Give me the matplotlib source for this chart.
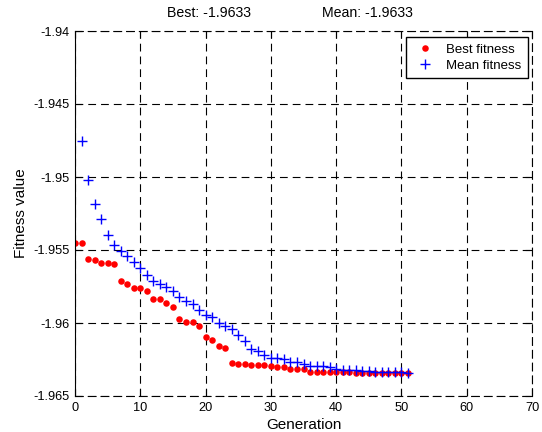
import numpy as np
import matplotlib
matplotlib.use('Agg')
import matplotlib.pyplot as plt

plt.rcParams['font.family'] = ['Liberation Sans', 'DejaVu Sans']

# Best fitness per generation (gen 0..51)
best_gen = list(range(0, 52))
best_fitness = [
    -1.95451, -1.95451, -1.95561, -1.95568, -1.95587, -1.95587, -1.95598, -1.95710,
    -1.95736, -1.95760, -1.95760, -1.95781, -1.95836, -1.95836, -1.95866, -1.95889,
    -1.95973, -1.95990, -1.95990, -1.96021, -1.96097, -1.96115, -1.96159, -1.96173,
    -1.96273, -1.96280, -1.96280, -1.96285, -1.96285, -1.96289, -1.96292, -1.96298,
    -1.96300, -1.96312, -1.96312, -1.96312, -1.96333, -1.96333, -1.96334, -1.96334,
    -1.96335, -1.96335, -1.96337, -1.96340, -1.96340, -1.96340, -1.96340, -1.96342,
    -1.96343, -1.96343, -1.96343, -1.96345,
]

# Mean fitness per generation (gen 1..51, gen 0 is off the chart)
mean_gen = list(range(1, 52))
mean_fitness = [
    -1.94750, -1.95023, -1.95183, -1.95289, -1.95394, -1.95463, -1.95509, -1.95543,
    -1.95582, -1.95623, -1.95671, -1.95715, -1.95736, -1.95751, -1.95779, -1.95825,
    -1.95848, -1.95870, -1.95911, -1.95944, -1.95962, -1.95997, -1.96021, -1.96038,
    -1.96083, -1.96122, -1.96175, -1.96191, -1.96220, -1.96237, -1.96241, -1.96250,
    -1.96264, -1.96264, -1.96278, -1.96294, -1.96296, -1.96296, -1.96300, -1.96312,
    -1.96319, -1.96324, -1.96324, -1.96328, -1.96330, -1.96333, -1.96333, -1.96333,
    -1.96335, -1.96335, -1.96340,
]

x_ticks = [0, 10, 20, 30, 40, 50, 60, 70]
y_ticks = [-1.965, -1.96, -1.955, -1.95, -1.945, -1.94]
y_tick_labels = ['-1.965', '-1.96', '-1.955', '-1.95', '-1.945', '-1.94']

fig = plt.figure(figsize=(5.42, 4.32), dpi=100)
ax = fig.add_axes([75 / 542, 1 - 396 / 432, (532 - 75) / 542, (396 - 31) / 432])

ax.plot(best_gen, best_fitness, linestyle='none', marker='o', color='#ff0000',
        markersize=4.7, markeredgewidth=0, label='Best fitness')
ax.plot(mean_gen, mean_fitness, linestyle='none', marker='+', color='#0000ff',
        markersize=7, markeredgewidth=1.0, label='Mean fitness')

ax.set_xlim(0, 70)
ax.set_ylim(-1.965, -1.94)
ax.set_xticks(x_ticks)
ax.set_yticks(y_ticks)
ax.set_yticklabels(y_tick_labels)
ax.tick_params(direction='in', length=5, width=0.8, top=True, right=True,
               labelsize=9.2, pad=4)

dash = (0, (7, 4.5))
ax.grid(True, color='black', linestyle=dash, linewidth=0.8)
for side in ['top', 'right', 'bottom']:
    ax.spines[side].set_linestyle(dash)
    ax.spines[side].set_linewidth(0.8)
ax.spines['left'].set_linewidth(0.8)

ax.set_xlabel('Generation', fontsize=11, labelpad=3)
ax.set_ylabel('Fitness value', fontsize=11, labelpad=4)

fig.text(167 / 542, 1 - 13 / 432, 'Best: -1.9633', fontsize=10.2, ha='left', va='center')
fig.text(322 / 542, 1 - 13 / 432, 'Mean: -1.9633', fontsize=10.2, ha='left', va='center')

leg = ax.legend(loc='upper right', bbox_to_anchor=(0.992, 0.984), fontsize=9.5,
                frameon=True, fancybox=False, handlelength=2.0, handletextpad=0.6,
                borderpad=0.5, labelspacing=0.3, borderaxespad=0)
leg.get_frame().set_edgecolor('black')
leg.get_frame().set_linewidth(1.0)
leg.get_frame().set_alpha(1)

fig.savefig('out.png', dpi=100)
